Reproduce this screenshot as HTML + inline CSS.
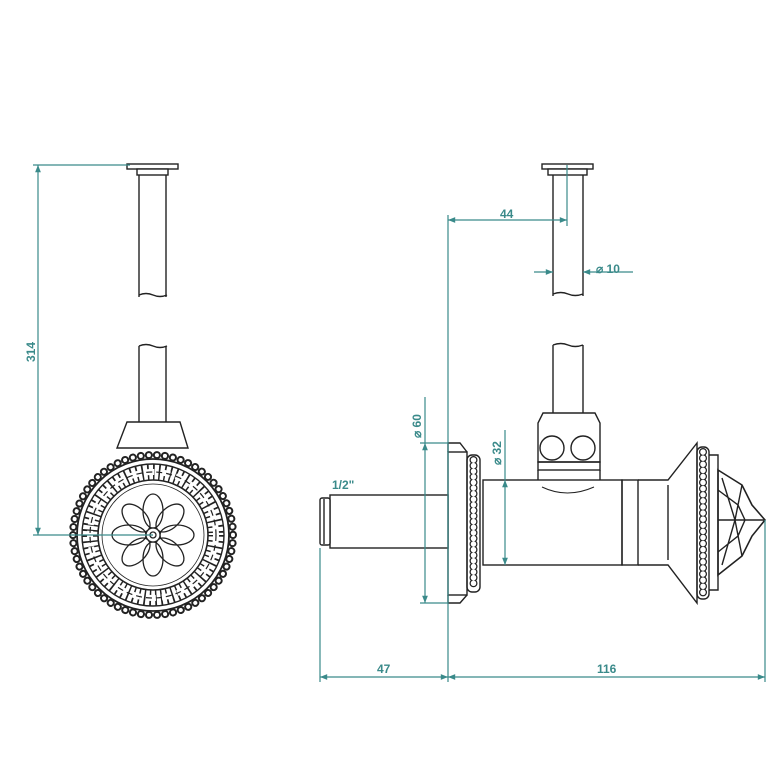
<!DOCTYPE html>
<html><head><meta charset="utf-8"><style>
html,body{margin:0;padding:0;background:#fff}
svg{display:block}
text{font-family:"Liberation Sans",sans-serif;font-weight:bold;font-size:12px;fill:#3a8a8a}
</style></head><body>
<svg width="775" height="775" viewBox="0 0 775 775" xmlns="http://www.w3.org/2000/svg">
<defs>
<marker id="a" viewBox="0 0 10 10" refX="10" refY="5" markerWidth="8" markerHeight="6" orient="auto-start-reverse"><path d="M0,1 L10,5 L0,9 z" fill="#3a8a8a"/></marker>
</defs>
<g fill="none" stroke="#222" stroke-width="1.4">
<!-- LEFT VIEW -->
<rect x="127" y="164" width="51" height="5" fill="#fff"/>
<rect x="137" y="169" width="31" height="6" fill="#fff"/>
<path d="M139,175 V297 M166,175 V297 M139,295 q7,-3 14,0 t14,0"/>
<path d="M139,346 q7,-3 14,0 t14,0 M139,346 V422 M166,346 V422"/>
<path d="M127,422 H180 L188,448 H117 Z" fill="#fff"/>
<circle cx="153" cy="535" r="80" fill="#fff" stroke-width="8" stroke="#222" stroke-dasharray="0.1 8" stroke-linecap="round"/>
<circle cx="153" cy="535" r="80" stroke-width="4" stroke="#fff" stroke-dasharray="0.1 8" stroke-linecap="round"/>
<circle cx="153" cy="535" r="76" stroke-width="1.8"/>
<circle cx="153" cy="535" r="71"/>
<circle cx="153" cy="535" r="63" stroke-width="15" stroke-dasharray="1.6 4"/>
<circle cx="153" cy="535" r="63" stroke-width="6" stroke="#fff" stroke-dasharray="10 6"/>
<circle cx="153" cy="535" r="63" stroke-width="1.2" stroke-dasharray="6 4"/>
<circle cx="153" cy="535" r="55" stroke-width="1.6"/>
<circle cx="153" cy="535" r="51" stroke-width="0.8"/>
<g transform="translate(153,535)" stroke-width="1.3">
<ellipse cx="0" cy="-24" rx="10" ry="17"/>
<ellipse cx="0" cy="-24" rx="10" ry="17" transform="rotate(45)"/>
<ellipse cx="0" cy="-24" rx="10" ry="17" transform="rotate(90)"/>
<ellipse cx="0" cy="-24" rx="10" ry="17" transform="rotate(135)"/>
<ellipse cx="0" cy="-24" rx="10" ry="17" transform="rotate(180)"/>
<ellipse cx="0" cy="-24" rx="10" ry="17" transform="rotate(225)"/>
<ellipse cx="0" cy="-24" rx="10" ry="17" transform="rotate(270)"/>
<ellipse cx="0" cy="-24" rx="10" ry="17" transform="rotate(315)"/>
<circle r="7" fill="#fff"/>
<circle r="3"/>
</g>
<!-- RIGHT VIEW -->
<rect x="542" y="164" width="51" height="5" fill="#fff"/>
<rect x="548" y="169" width="39" height="6" fill="#fff"/>
<path d="M553,175 V296 M583,175 V296 M553,294 q8,-3 15,0 t15,0"/>
<path d="M553,345 q8,-3 15,0 t15,0 M553,345 V413 M583,345 V413"/>
<path d="M543,413 H595 L600,423 V462 H538 V423 Z" fill="#fff"/>
<circle cx="552" cy="448" r="12"/>
<circle cx="583" cy="448" r="12"/>
<rect x="538" y="462" width="62" height="8"/>
<path d="M538,470 V480 M600,470 V480"/>
<rect x="483" y="480" width="139" height="85" fill="#fff"/>
<path d="M542,487 q25,12 52,0" stroke-width="1"/>
<rect x="622" y="480" width="16" height="85"/>
<path d="M638,480 H668 L697,443 V603 L668,565 H638"/>
<path d="M668,485 V560"/>
<rect x="697" y="447" width="12" height="152" rx="5"/>
<line x1="703" y1="452" x2="703" y2="594" stroke-width="8" stroke-dasharray="0.1 6" stroke-linecap="round"/>
<line x1="703" y1="452" x2="703" y2="594" stroke-width="5.5" stroke="#fff" stroke-dasharray="0.1 6" stroke-linecap="round"/>
<path d="M709,455 H718 V590 H709"/>
<path d="M718,470 L742,485 L752,505 L765,520 L752,536 L742,556 L718,575 Z" stroke-width="1.6"/>
<path d="M718,490 L738,505 L745,520 L738,536 L718,552 M722,478 L735,520 L722,565 M742,485 L735,520 L742,556 M718,520 H765"/>
<rect x="448" y="452" width="19" height="143" fill="#fff"/>
<path d="M448,452 V443 H460 L467,452"/>
<path d="M448,595 V603 H460 L467,595"/>
<rect x="467" y="455" width="13" height="137" rx="5"/>
<line x1="473.5" y1="460" x2="473.5" y2="587" stroke-width="8" stroke-dasharray="0.1 5.5" stroke-linecap="round"/>
<line x1="473.5" y1="460" x2="473.5" y2="587" stroke-width="5.5" stroke="#fff" stroke-dasharray="0.1 5.5" stroke-linecap="round"/>
<rect x="330" y="495" width="118" height="53" fill="#fff"/>
<rect x="320" y="498" width="10" height="47" rx="2" fill="#fff"/>
<path d="M324,499 V544"/>
</g>
<!-- DIMENSIONS -->
<g stroke="#3a8a8a" stroke-width="1.2" fill="none">
<line x1="33" y1="165" x2="130" y2="165"/>
<line x1="33" y1="535" x2="153" y2="535"/>
<line x1="38" y1="165" x2="38" y2="535" marker-start="url(#a)" marker-end="url(#a)"/>
<line x1="567" y1="165" x2="567" y2="226"/>
<line x1="448" y1="215" x2="448" y2="682"/>
<line x1="448" y1="220" x2="567" y2="220" marker-start="url(#a)" marker-end="url(#a)"/>
<line x1="534" y1="272" x2="553" y2="272" marker-end="url(#a)"/>
<line x1="633" y1="272" x2="583" y2="272" marker-end="url(#a)"/>
<line x1="420" y1="443" x2="448" y2="443"/>
<line x1="420" y1="603" x2="448" y2="603"/>
<line x1="425" y1="397" x2="425" y2="443"/>
<line x1="425" y1="443" x2="425" y2="603" marker-start="url(#a)" marker-end="url(#a)"/>
<line x1="505" y1="430" x2="505" y2="480"/>
<line x1="505" y1="480" x2="505" y2="565" marker-start="url(#a)" marker-end="url(#a)"/>
<line x1="320" y1="548" x2="320" y2="682"/>
<line x1="765" y1="520" x2="765" y2="682"/>
<line x1="320" y1="677" x2="448" y2="677" marker-start="url(#a)" marker-end="url(#a)"/>
<line x1="448" y1="677" x2="765" y2="677" marker-start="url(#a)" marker-end="url(#a)"/>
</g>
<text transform="translate(35,362) rotate(-90)">314</text>
<text x="500" y="218">44</text>
<text x="596" y="273">⌀ 10</text>
<text transform="translate(421,438) rotate(-90)">⌀ 60</text>
<text transform="translate(501,465) rotate(-90)">⌀ 32</text>
<text x="332" y="489">1/2"</text>
<text x="377" y="673">47</text>
<text x="597" y="673">116</text>
</svg>
</body></html>
